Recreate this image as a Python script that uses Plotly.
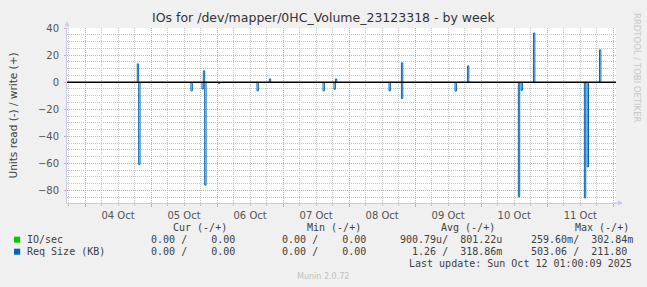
import plotly.graph_objects as go
from datetime import datetime, timedelta

# ---------------- data ----------------
write_times = ["2025-10-04 19:00", "2025-10-05 19:00", "2025-10-06 19:00", "2025-10-07 19:00",
               "2025-10-08 19:00", "2025-10-09 19:00", "2025-10-10 19:00", "2025-10-11 19:00"]
write_values = [13.5, 8.4, 2.4, 2.4, 14.3, 12.0, 36.3, 23.9]

read_times = ["2025-10-04 19:30", "2025-10-05 14:30", "2025-10-05 18:30", "2025-10-05 19:30",
              "2025-10-06 00:30", "2025-10-06 14:30", "2025-10-07 14:30", "2025-10-07 18:30",
              "2025-10-08 14:30", "2025-10-08 19:00", "2025-10-09 14:30", "2025-10-10 13:30",
              "2025-10-10 14:30", "2025-10-11 13:30", "2025-10-11 14:30"]
read_values = [-60.7, -6.4, -5.0, -76.0, -1.0, -6.4, -6.4, -5.2, -6.4, -12.1, -6.6, -84.6,
               -6.0, -85.4, -62.5]

legend_names = ["IO/sec", "Req Size (KB)"]
legend_colors = ["#00CC00", "#0066B3"]
cur_read = ["0.00", "0.00"]
cur_read_sfx = [" ", " "]
cur_write = ["0.00", "0.00"]
cur_write_sfx = [" ", " "]
min_read = ["0.00", "0.00"]
min_read_sfx = [" ", " "]
min_write = ["0.00", "0.00"]
min_write_sfx = [" ", " "]
avg_read = ["900.79", "1.26"]
avg_read_sfx = ["u", " "]
avg_write = ["801.22", "318.86"]
avg_write_sfx = ["u", "m"]
max_read = ["259.60", "503.06"]
max_read_sfx = ["m", " "]
max_write = ["302.84", "211.80"]
max_write_sfx = ["m", " "]
col_headers = ["Cur (-/+)", "Min (-/+)", "Avg (-/+)", "Max (-/+)"]

title_text = "IOs for /dev/mapper/0HC_Volume_23123318 - by week"
y_title = "Units read (-) / write (+)"
last_update = "Last update: Sun Oct 12 01:00:09 2025"
footer = "Munin 2.0.72"
side_text = "RRDTOOL / TOBI OETIKER"

x_start = "2025-10-03 17:27"
x_end = "2025-10-12 01:00"
y_min, y_max = -89.2, 40

# ---------------- layout geometry ----------------
W, H = 647, 287
ML, MR, MT, MB = 67, 31, 28, 84
PW, PH = W - ML - MR, H - MT - MB


def px(x):
    return (x - ML) / PW


def py(y):
    return (H - MB - y) / PH


STEP = timedelta(minutes=30)


def spikes(times, values):
    xs, ys = [], []
    for t, v in zip(times, values):
        t0 = datetime.strptime(t, "%Y-%m-%d %H:%M")
        t1 = t0 + STEP
        xs += [t0, t0, t1, t1, None]
        ys += [0, v, v, 0, None]
    return xs, ys


fig = go.Figure()
wx, wy = spikes(write_times, write_values)
rx, ry = spikes(read_times, read_values)
fig.add_trace(go.Scatter(x=rx, y=ry, mode="lines", line=dict(color=legend_colors[1], width=1),
                         hoverinfo="skip", showlegend=False))
fig.add_trace(go.Scatter(x=wx, y=wy, mode="lines", line=dict(color=legend_colors[1], width=1),
                         hoverinfo="skip", showlegend=False))

# zero rule
fig.add_shape(type="line", xref="paper", yref="y", x0=0, x1=1, y0=0, y1=0,
              line=dict(color="black", width=1.5), layer="above")

mono = "DejaVu Sans Mono"
txt_col = "#404040"
ann = []


def add(text, x, y, xanchor="left", size=10, color=txt_col, family=mono, angle=0):
    ann.append(dict(text=text.replace(" ", "\u00a0"), x=px(x), y=py(y), xref="paper", yref="paper",
                    xanchor=xanchor, yanchor="middle", showarrow=False, textangle=angle,
                    font=dict(family=family, size=size, color=color), borderpad=0))


# headers
for h, x in zip(col_headers, [172, 305.5, 439.5, 573.5]):
    add(h, x, 227.5)

cell_x = [137.8, 268.5, 399.0, 529.8]
rows_y = [239.7, 251.7]
for i in range(2):
    add(legend_names[i], 26, rows_y[i])
    cells = [
        (cur_read[i], cur_read_sfx[i], cur_write[i], cur_write_sfx[i]),
        (min_read[i], min_read_sfx[i], min_write[i], min_write_sfx[i]),
        (avg_read[i], avg_read_sfx[i], avg_write[i], avg_write_sfx[i]),
        (max_read[i], max_read_sfx[i], max_write[i], max_write_sfx[i]),
    ]
    for (r, rs, w, ws), x in zip(cells, cell_x):
        add(f"{r:>6}{rs}/{w:>8}{ws}", x, rows_y[i])
    fig.add_shape(type="rect", xref="paper", yref="paper",
                  x0=px(14), x1=px(20.2), y0=py(rows_y[i] - 3), y1=py(rows_y[i] + 3),
                  fillcolor=legend_colors[i], line=dict(width=0))

add(last_update, 633, 263.5, xanchor="right")
add(footer, 323, 276, xanchor="center", size=8, color="#c0c0c0", family="DejaVu Sans")
add(side_text, 637, 68, xanchor="center", size=8.5, color="#c8c8c8", family="DejaVu Sans", angle=90)
add(title_text, 323.5, 18, xanchor="center", size=12.5, color="#333333", family="DejaVu Sans")
add(y_title, 12, 115.5, xanchor="center", size=10.5, color="#404040", family="DejaVu Sans", angle=-90)

# axis arrows
axis_col = "#C8C8F0"
ann.append(dict(x=px(623), y=py(203), ax=-10, ay=0, xref="paper", yref="paper",
                axref="pixel", ayref="pixel", showarrow=True, arrowhead=2, arrowsize=1,
                arrowwidth=1, arrowcolor=axis_col, text=""))
ann.append(dict(x=px(67), y=py(21), ax=0, ay=10, xref="paper", yref="paper",
                axref="pixel", ayref="pixel", showarrow=True, arrowhead=2, arrowsize=1,
                arrowwidth=1, arrowcolor=axis_col, text=""))

major_col = "#E6A0A0"
minor_col = "#C4C4C4"
dash = "1px,1px"

fig.update_layout(
    width=W, height=H,
    margin=dict(l=ML, r=MR, t=MT, b=MB, pad=0),
    paper_bgcolor="#F0F0F0", plot_bgcolor="white",
    showlegend=False,
    annotations=ann,
    font=dict(family="DejaVu Sans", size=10, color="#555555"),
)
fig.update_xaxes(
    type="date", range=[x_start, x_end],
    tick0="2025-10-04", dtick=86400000, tickformat="%d %b", ticklabelmode="period",
    showgrid=True, gridcolor=major_col, griddash=dash, gridwidth=1,
    minor=dict(tick0="2025-10-04", dtick=6 * 3600000, showgrid=True, gridcolor=minor_col,
               griddash=dash, gridwidth=1, ticks="outside", ticklen=2, tickcolor=minor_col),
    ticks="outside", ticklen=3, tickcolor=major_col,
    showline=True, linecolor=axis_col, linewidth=1,
    zeroline=False, tickfont=dict(size=10, color="#555555"),
)
fig.update_yaxes(
    range=[y_min, y_max], tick0=0, dtick=20,
    showgrid=True, gridcolor=major_col, griddash=dash, gridwidth=1,
    minor=dict(tick0=0, dtick=5, showgrid=True, gridcolor=minor_col, griddash=dash, gridwidth=1),
    ticks="outside", ticklen=2, tickcolor=major_col, ticklabelstandoff=3,
    showline=True, linecolor=axis_col, linewidth=1,
    zeroline=False, tickfont=dict(size=10, color="#555555"),
)

fig.write_html("out.html")
